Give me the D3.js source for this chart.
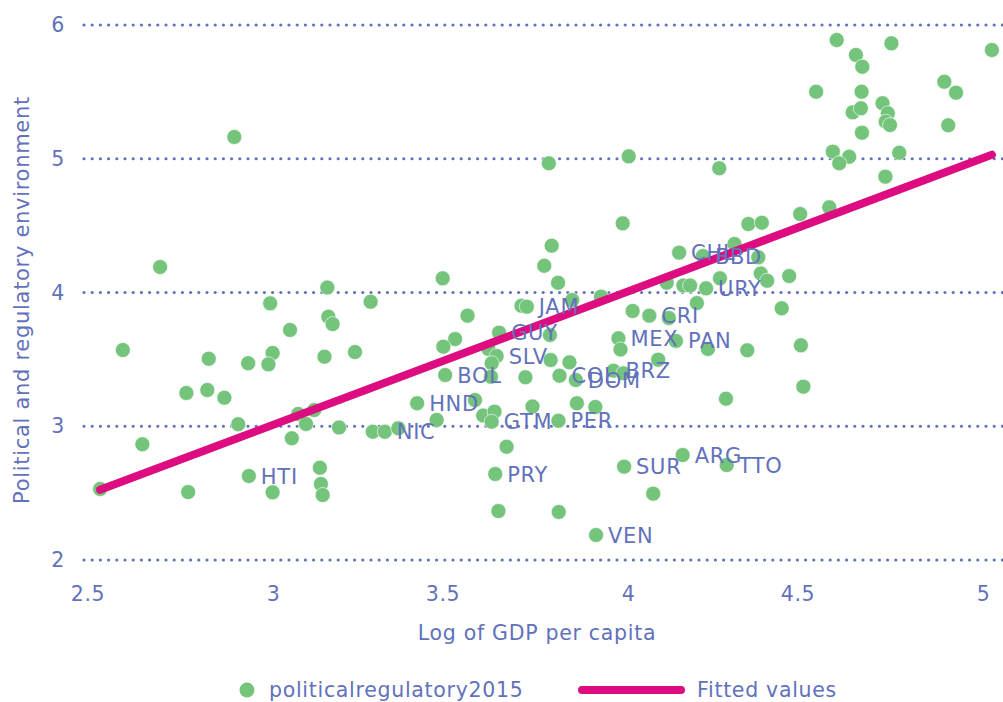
<!DOCTYPE html>
<html>
<head>
<meta charset="utf-8">
<script src="https://cdn.jsdelivr.net/npm/d3@7"></script>
<style>
  body { margin: 0; background: #fff; }
  svg { display: block; }
  text { font-family: "DejaVu Sans", sans-serif; fill: #6271bb; letter-spacing: 0.7px; }
</style>
</head>
<body>
<div id="chart"></div>
<script>
// log of GDP per capita
const gdp = [
  2.513, 2.577, 2.682, 2.632, 2.756, 2.815, 2.863, 2.819, 2.761, 2.902,
  2.930, 2.992, 2.999, 2.987, 3.048, 3.053, 3.071, 3.093, 3.116, 3.186,
  2.932, 2.999, 3.132, 3.135, 3.140, 3.153, 3.156, 3.168, 3.145, 3.231,
  2.891, 3.777, 4.002, 3.985, 3.785, 3.764, 3.803, 3.478, 3.275, 3.548,
  3.700, 3.715, 3.843, 3.924, 3.637, 3.513, 3.480, 3.607, 3.630, 3.616,
  3.485, 3.614, 3.711, 3.782, 3.835, 3.807, 3.853, 3.569, 3.592, 3.624,
  3.616, 3.731, 3.856, 3.908, 3.804, 3.406, 3.461, 3.281, 3.315, 3.353,
  3.780, 3.959, 3.987, 4.013, 4.060, 3.973, 3.979, 4.085, 3.658, 3.626,
  3.635, 3.805, 3.910, 3.989, 4.071, 4.154, 4.278, 4.276, 4.494, 4.487,
  4.336, 4.225, 4.135, 4.433, 4.194, 4.115, 4.144, 4.300, 4.259, 4.374,
  4.392, 4.454, 4.156, 4.175, 4.220, 4.109, 4.211, 4.367, 4.257, 4.588,
  4.642, 4.660, 4.742, 5.025, 4.530, 4.658, 4.891, 4.924, 4.633, 4.656,
  4.717, 4.732, 4.726, 4.738, 4.659, 4.902, 4.577, 4.623, 4.595, 4.764,
  4.725, 4.567, 4.485, 4.339, 4.377
];
// political and regulatory environment score, 2015
const polreg = [
  2.531, 3.570, 4.191, 2.865, 3.249, 3.271, 3.213, 3.505, 2.508, 3.015,
  3.471, 3.919, 3.548, 3.463, 3.720, 2.910, 3.092, 3.017, 3.121, 2.991,
  2.628, 2.506, 2.690, 2.568, 2.486, 4.037, 3.819, 3.764, 3.520, 3.555,
  5.163, 4.966, 5.018, 4.517, 4.350, 4.200, 4.073, 4.106, 3.931, 3.827,
  3.901, 3.894, 3.944, 3.969, 3.700, 3.652, 3.595, 3.578, 3.525, 3.471,
  3.383, 3.370, 3.366, 3.495, 3.478, 3.378, 3.346, 3.196, 3.080, 3.109,
  3.034, 3.148, 3.172, 3.144, 3.041, 3.172, 3.047, 2.959, 2.959, 2.985,
  3.682, 3.415, 3.396, 3.862, 3.827, 3.658, 3.574, 3.498, 2.847, 2.643,
  2.366, 2.359, 2.187, 2.698, 2.496, 2.785, 2.710, 3.206, 3.296, 3.605,
  3.568, 3.578, 3.638, 3.882, 3.921, 3.809, 4.298, 4.363, 4.106, 4.142,
  4.088, 4.123, 4.052, 4.052, 4.031, 4.073, 4.273, 4.263, 4.929, 5.888,
  5.776, 5.688, 5.863, 5.813, 5.501, 5.501, 5.576, 5.494, 5.347, 5.377,
  5.415, 5.340, 5.277, 5.252, 5.195, 5.250, 5.053, 5.015, 4.966, 5.045,
  4.866, 4.637, 4.587, 4.512, 4.522
];
// country code labels shown on the chart ("" = unlabelled)
const codes = [
  "", "", "", "", "", "", "", "", "", "",
  "", "", "", "", "", "", "", "", "", "",
  "HTI", "", "", "", "", "", "", "", "", "",
  "", "", "", "", "", "", "", "", "", "",
  "", "JAM", "", "", "GUY", "", "", "", "SLV", "",
  "BOL", "", "", "", "", "COL", "DOM", "", "", "",
  "GTM", "", "", "", "PER", "HND", "", "", "NIC", "",
  "", "BRZ", "", "", "CRI", "MEX", "", "", "", "PRY",
  "", "", "VEN", "SUR", "", "ARG", "TTO", "", "", "",
  "", "", "PAN", "", "", "", "CHL", "", "", "",
  "", "", "", "", "URY", "", "BBD", "", "", "",
  "", "", "", "", "", "", "", "", "", "",
  "", "", "", "", "", "", "", "", "", "",
  "", "", "", "", ""
];
// fitted values (end points of the linear fit)
const fitX = [2.513, 5.025];
const fitY = [2.525, 5.03];

const xTicks = [2.5, 3, 3.5, 4, 4.5, 5];
const yTicks = [2, 3, 4, 5, 6];

const width = 1003, height = 702;
const blue = "#6271bb", green = "#74c47c", pink = "#dd0c80";

const svg = d3.select("#chart").append("svg")
  .attr("width", width)
  .attr("height", height);

const x = d3.scaleLinear().domain([2.5, 5]).range([95.5, 983]);
const y = d3.scaleLinear().domain([2, 6]).range([560, 25]);

// dotted gridlines
svg.append("g")
  .selectAll("line")
  .data(yTicks)
  .join("line")
  .attr("x1", 84)
  .attr("x2", width)
  .attr("y1", d => y(d))
  .attr("y2", d => y(d))
  .attr("stroke", blue)
  .attr("stroke-width", 3.2)
  .attr("stroke-linecap", "round")
  .attr("stroke-dasharray", "0 8.2");

// y axis (labels only)
const yAxis = svg.append("g")
  .attr("transform", "translate(65,0)")
  .call(d3.axisLeft(y).tickValues(yTicks).tickSize(0).tickPadding(0).tickFormat(d3.format("d")));
yAxis.select(".domain").remove();
yAxis.selectAll("text")
  .attr("fill", blue)
  .style("font-size", "20.5px");

// x axis (labels only); the half-unit labels sit a little left, as in the original
const xAxis = svg.append("g")
  .attr("transform", "translate(0,586)")
  .call(d3.axisBottom(x).tickValues(xTicks).tickSize(0).tickPadding(0).tickFormat(d => String(d)));
xAxis.select(".domain").remove();
xAxis.selectAll("text")
  .attr("fill", blue)
  .attr("dx", d => Number.isInteger(d) ? 0 : -8)
  .style("font-size", "20.5px");

// axis titles
svg.append("text")
  .attr("x", 537)
  .attr("y", 640)
  .attr("text-anchor", "middle")
  .style("font-size", "20.5px")
  .text("Log of GDP per capita");

svg.append("text")
  .attr("transform", "translate(29,300) rotate(-90)")
  .attr("text-anchor", "middle")
  .style("font-size", "21px")
  .style("letter-spacing", "0.7px")
  .text("Political and regulatory environment");

// scatter points
const pts = gdp.map((g, i) => ({ g, p: polreg[i], c: codes[i] }));

svg.append("g")
  .selectAll("circle")
  .data(pts)
  .join("circle")
  .attr("cx", d => x(d.g))
  .attr("cy", d => y(d.p))
  .attr("r", 7.5)
  .attr("fill", green)
  .attr("stroke", "#fff")
  .attr("stroke-width", 0.6);

// fitted line
const fit = fitX.map((v, i) => [v, fitY[i]]);
svg.append("path")
  .datum(fit)
  .attr("d", d3.line().x(d => x(d[0])).y(d => y(d[1])))
  .attr("stroke", pink)
  .attr("stroke-width", 8)
  .attr("stroke-linecap", "round")
  .attr("fill", "none");

// country labels
svg.append("g")
  .selectAll("text")
  .data(pts.filter(d => d.c))
  .join("text")
  .attr("x", d => x(d.g) + 12)
  .attr("y", d => y(d.p))
  .attr("dy", "0.36em")
  .style("font-size", "21px")
  .text(d => d.c);

// legend
const legend = svg.append("g");
legend.append("circle")
  .attr("cx", 247).attr("cy", 690).attr("r", 7.5)
  .attr("fill", green);
legend.append("text")
  .attr("x", 269).attr("y", 697)
  .style("font-size", "20.5px")
  .text("politicalregulatory2015");
legend.append("line")
  .attr("x1", 582).attr("x2", 681)
  .attr("y1", 690).attr("y2", 690)
  .attr("stroke", pink)
  .attr("stroke-width", 8)
  .attr("stroke-linecap", "round");
legend.append("text")
  .attr("x", 697).attr("y", 697)
  .style("font-size", "20.5px")
  .text("Fitted values");
</script>
</body>
</html>
